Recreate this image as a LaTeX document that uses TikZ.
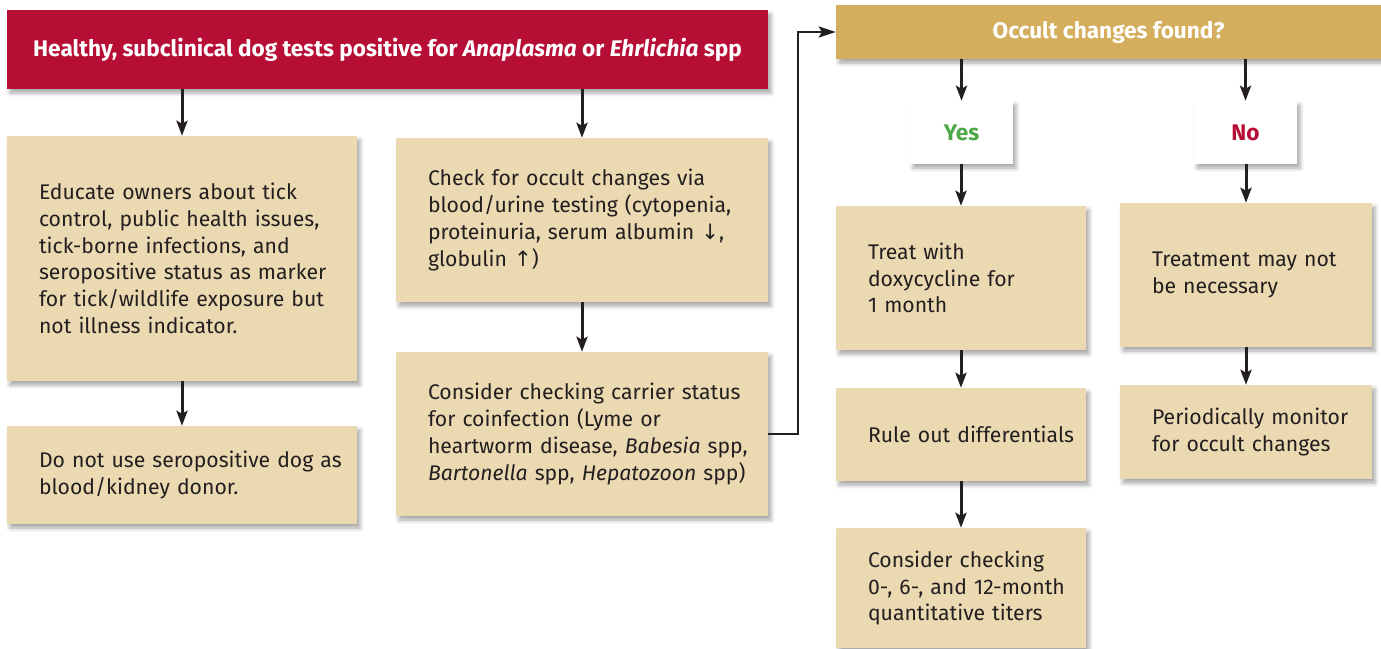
\documentclass[tikz,border=0pt]{standalone}
\usepackage{fontspec}
\setmainfont{Fira Sans}
\newfontfamily\arrowfont{DejaVu Sans}
\usetikzlibrary{arrows.meta,shadows.blur}
\definecolor{titlered}{RGB}{183,14,54}
\definecolor{headgold}{RGB}{212,174,92}
\definecolor{boxtan}{RGB}{234,217,177}
\definecolor{textdark}{RGB}{35,31,32}
\definecolor{yesgreen}{RGB}{77,168,72}
\def\dn{{\arrowfont\char"2193}}
\def\up{{\arrowfont\char"2191}}
\tikzset{
  shade box/.style={blur shadow={shadow xshift=3pt,shadow yshift=-4pt,shadow blur radius=4pt,shadow opacity=35}},
  tanbox/.style={shade box,fill=boxtan,text=textdark,align=left,inner xsep=32pt,inner ysep=0pt,
    font=\fontsize{21.2}{26.7}\selectfont,execute at begin node={\rightskip=-60pt plus 1fil}},
  headbox/.style={shade box,text=white,inner sep=0pt,font=\bfseries\fontsize{22.6}{28}\selectfont},
  answer/.style={shade box,fill=white,inner sep=0pt,minimum width=103pt,minimum height=63pt,
    font=\bfseries\fontsize{22.6}{28}\selectfont},
  arr/.style={draw=textdark,line width=3pt,-{Stealth[length=15pt,width=11pt,inset=3pt]}},
  arrthin/.style={draw=textdark,line width=2pt,-{Stealth[length=17pt,width=11pt,inset=3pt]}}
}
\begin{document}
\begin{tikzpicture}[x=1pt,y=-1pt]
\useasboundingbox (0,0) rectangle (1381,648);
\node[headbox,fill=titlered,minimum width=761pt,minimum height=79pt] (title) at (387.5,49.5)
  {Healthy, subclinical dog tests positive for \textit{Anaplasma} or \textit{Ehrlichia} spp};
\node[tanbox,text width=286pt,minimum height=245pt] (educate) at (182,258.5)
  {Educate owners about tick\\control, public health issues,\\tick-borne infections, and\\seropositive status as marker\\for tick/wildlife exposure but\\not illness indicator.};
\node[tanbox,text width=286pt,minimum height=98pt] (donor) at (182,475)
  {Do not use seropositive dog as\\blood/kidney donor.};
\node[tanbox,text width=308pt,minimum height=164pt] (check) at (582,220)
  {Check for occult changes via\\blood/urine testing (cytopenia,\\proteinuria, serum albumin \dn,\\globulin \up)};
\node[tanbox,text width=308pt,minimum height=164pt] (carrier) at (582,434)
  {Consider checking carrier status\\for coinfection (Lyme or\\heartworm disease, \textit{Babesia} spp,\\\textit{Bartonella} spp, \textit{Hepatozoon} spp)};
\node[headbox,fill=headgold,minimum width=545pt,minimum height=54pt] (found) at (1108.5,32)
  {Occult changes found?};
\node[answer,text=yesgreen] (yes) at (961.5,132.5) {Yes};
\node[answer,text=titlered] (no) at (1245.5,132.5) {No};
\node[tanbox,text width=186pt,minimum height=144pt] (treat) at (961,278)
  {Treat with\\doxycycline for\\1 month};
\node[tanbox,text width=186pt,minimum height=93pt] (rule) at (961,434.5)
  {Rule out differentials};
\node[tanbox,text width=186pt,minimum height=120pt] (titers) at (961,588)
  {Consider checking\\0-, 6-, and 12-month\\quantitative titers};
\node[tanbox,text width=188pt,minimum height=144pt] (notneeded) at (1246,275)
  {Treatment may not\\be necessary};
\node[tanbox,text width=188pt,minimum height=94pt] (monitor) at (1246,432)
  {Periodically monitor\\for occult changes};
\draw[arr] (title.south -| educate.north) -- (educate.north);
\draw[arr] (title.south -| check.north) -- (check.north);
\draw[arr] (educate) -- (donor);
\draw[arr] (check) -- (carrier);
\draw[arrthin] (carrier.east) -- ++(30,0) |- (found.west);
\draw[arr] (found.south -| yes.north) -- (yes.north);
\draw[arr] (found.south -| no.north) -- (no.north);
\draw[arr] (yes.south -| treat.north) -- (treat.north);
\draw[arr] (no.south -| notneeded.north) -- (notneeded.north);
\draw[arr] (treat) -- (rule);
\draw[arr] (rule) -- (titers);
\draw[arr] (notneeded) -- (monitor);
\end{tikzpicture}
\end{document}
